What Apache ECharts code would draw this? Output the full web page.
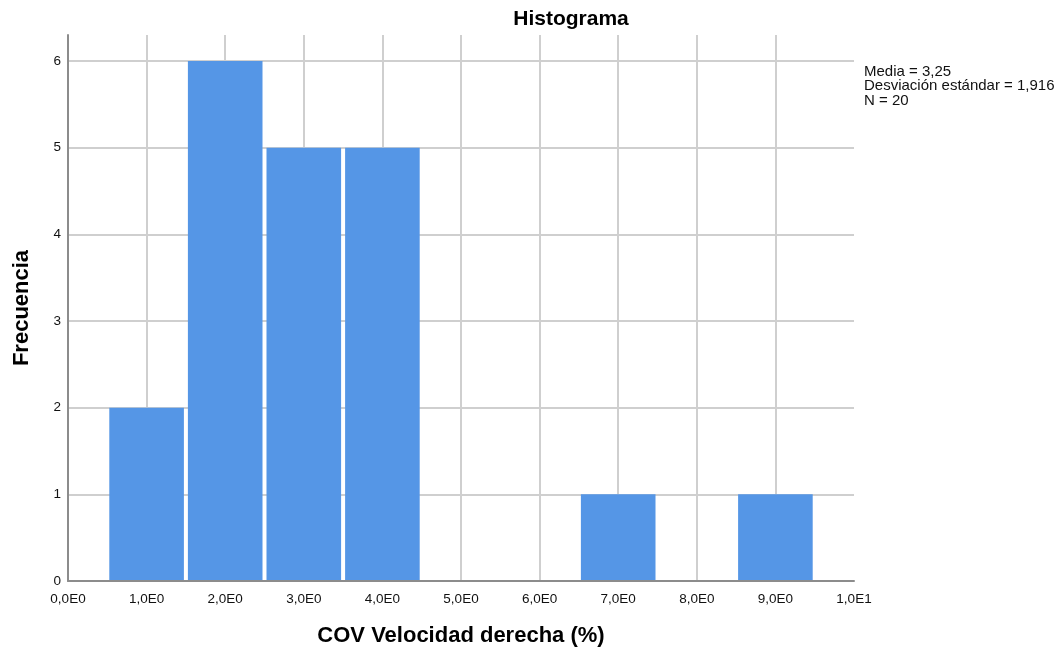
<!DOCTYPE html>
<html>
<head>
<meta charset="utf-8">
<script src="https://cdn.jsdelivr.net/npm/echarts@6/dist/echarts.min.js"></script>
<style>html,body{margin:0;padding:0;background:#fff;}#c{width:1057px;height:657px;}</style>
</head>
<body>
<div id="c"></div>
<script>
const binCenters = [1, 2, 3, 4, 7, 9];
const binWidth = 1;
const counts = [2, 6, 5, 5, 1, 1];
const xTickLabels = ['0,0E0','1,0E0','2,0E0','3,0E0','4,0E0','5,0E0','6,0E0','7,0E0','8,0E0','9,0E0','1,0E1'];
const yTickLabels = ['0','1','2','3','4','5','6'];
const statsLines = ['Media = 3,25', 'Desviación estándar = 1,916', 'N = 20'];

const chart = echarts.init(document.getElementById('c'), null, {renderer: 'canvas'});
const data = binCenters.map((c, i) => [c - binWidth / 2, c + binWidth / 2, counts[i]]);
const font = 'Liberation Sans, Arial, sans-serif';

chart.setOption({
  backgroundColor: '#fff',
  animation: false,
  title: {
    text: 'Histograma', left: 566, top: 4, textAlign: 'center',
    textStyle: {fontFamily: font, fontSize: 21, fontWeight: 'bold', color: '#000'}
  },
  grid: {left: 68, right: 203, top: 35, bottom: 76, containLabel: false, outerBoundsMode: 'none'},
  xAxis: {
    type: 'value', min: 0, max: 10, interval: 1,
    name: 'COV Velocidad derecha (%)', nameLocation: 'middle', nameGap: 44,
    nameTextStyle: {fontFamily: font, fontSize: 22, fontWeight: 'bold', color: '#000'},
    axisLine: {show: true, lineStyle: {color: '#8c8c8c', width: 2}},
    axisTick: {show: false},
    axisLabel: {fontFamily: font, fontSize: 13.5, color: '#111', margin: 11,
      formatter: v => xTickLabels[Math.round(v)] ?? ''},
    splitLine: {show: true, showMinLine: false, showMaxLine: false, lineStyle: {color: '#cfcfcf', width: 2}}
  },
  yAxis: {
    type: 'value', min: 0, max: 6.3, interval: 1,
    name: 'Frecuencia', nameLocation: 'middle', nameGap: 35, nameRotate: 90,
    nameTextStyle: {fontFamily: font, fontSize: 22, fontWeight: 'bold', color: '#000'},
    axisLine: {show: true, lineStyle: {color: '#8c8c8c', width: 2}},
    axisTick: {show: false},
    axisLabel: {fontFamily: font, fontSize: 13.5, color: '#111', margin: 7, showMaxLabel: false,
      formatter: v => (Number.isInteger(v) ? (yTickLabels[v] ?? '') : '')},
    splitLine: {show: true, showMinLine: false, showMaxLine: false, lineStyle: {color: '#cfcfcf', width: 2}}
  },
  series: [{
    type: 'custom',
    data: data,
    encode: {x: [0, 1], y: 2},
    renderItem: function (params, api) {
      const p1 = api.coord([api.value(0), api.value(2)]);
      const p2 = api.coord([api.value(1), 0]);
      const inset = 2;
      return {
        type: 'rect',
        shape: {x: p1[0] + inset, y: p1[1], width: p2[0] - p1[0] - 2 * inset, height: p2[1] - p1[1] - 1},
        style: {fill: '#5596E6'}
      };
    },
    z: 3
  }],
  graphic: [{
    type: 'text', left: 864, top: 64,
    style: {text: statsLines.join('\n'), fontFamily: font, fontSize: 15, lineHeight: 14.5, fill: '#111'}
  }]
});
</script>
</body>
</html>
